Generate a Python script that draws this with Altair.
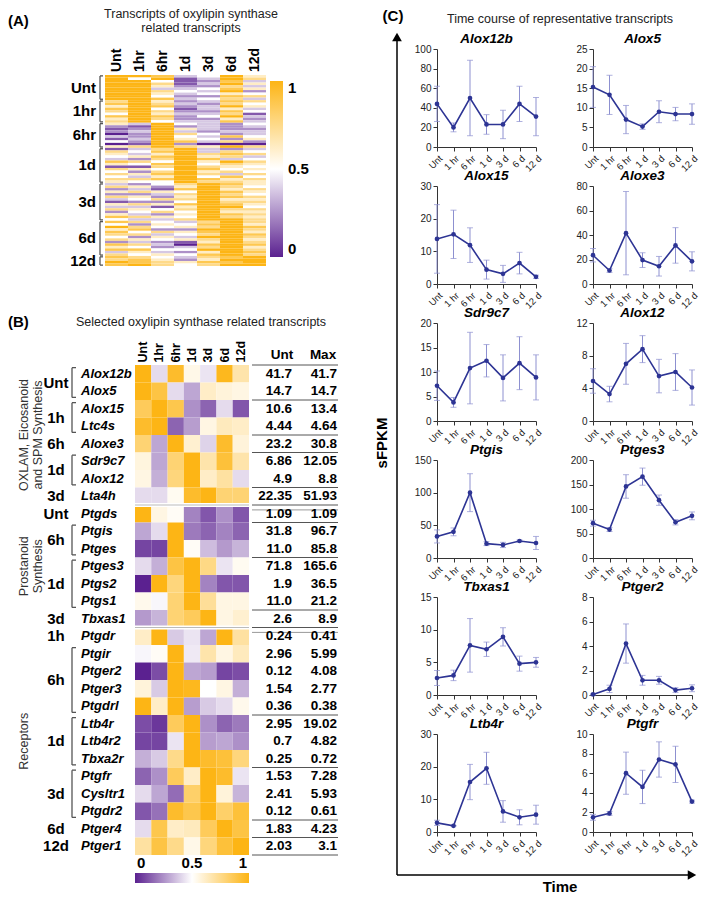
import altair as alt
import pandas as pd

FONT = "Liberation Sans"
COLOR_RANGE = ["#5b2190", "#ffffff", "#fdb515"]

# ---------------- Panel A data (digit d -> value d/8) ----------------
a_times = ["Unt", "1hr", "6hr", "1d", "3d", "6d", "12d"]
a_groups = ["Unt", "1hr", "6hr", "1d", "3d", "6d", "12d"]
a_unt = ["8873485", "8481386", "8841273", "8861385", "8852263",
         "8833475", "8864382", "8853454", "8842276", "8873463"]
a_1hr = ["6852376", "7863264", "5872385", "7841353", "6862274",
         "4853361", "7872483", "5862252", "6843373"]
a_6hr = ["5384324", "2182323", "1285322", "2383233", "0286423",
         "3284374", "1385425", "4287362", "0182000", "5686586"]
a_1d = ["1368323", "6478364", "5358676", "4578563", "3268734",
        "7648586", "5478465", "1168654", "6548745", "4268564",
        "6578636", "4358474", "6678756", "5448665"]
a_3d = ["3246875", "6525864", "2317856", "5654875", "2236864",
        "6525876", "3466855", "1224866", "5657875", "3315884",
        "6546866", "2464855", "5325876", "7654865", "4336886"]
a_6d = ["7643686", "4254785", "8645687", "5722886", "7465785",
        "6634687", "4253886", "6545685", "2321586", "7630787",
        "5423685", "7744886", "3532587", "6454786"]
a_12d = ["7643678", "6752588", "8765778", "7864688"]
a_rows = [a_unt, a_1hr, a_6hr, a_1d, a_3d, a_6d, a_12d]

# ---------------- Panel B data ----------------
b_times = ["Unt", "1hr", "6hr", "1d", "3d", "6d", "12d"]
b_genes = ["Alox12b", "Alox5", "Alox15", "Ltc4s", "Aloxe3", "Sdr9c7", "Alox12", "Lta4h",
           "Ptgds", "Ptgis", "Ptges", "Ptges3", "Ptgs2", "Ptgs1", "Tbxas1",
           "Ptgdr", "Ptgir", "Ptger2", "Ptger3", "Ptgdrl", "Ltb4r", "Ltb4r2", "Tbxa2r",
           "Ptgfr", "Cysltr1", "Ptgdr2", "Ptger4", "Ptger1"]
b_vals = [
    [1.0, 0.42, 0.95, 0.55, 0.44, 0.98, 0.68],
    [1.0, 0.9, 0.42, 0.3, 0.62, 0.58, 0.56],
    [0.85, 1.0, 0.88, 0.25, 0.15, 0.42, 0.12],
    [0.95, 1.0, 0.15, 0.28, 0.56, 0.64, 0.62],
    [0.8, 0.3, 1.0, 0.6, 0.4, 0.95, 0.58],
    [0.57, 0.3, 0.8, 1.0, 0.68, 0.92, 0.68],
    [0.56, 0.32, 0.78, 1.0, 0.62, 0.7, 0.42],
    [0.42, 0.42, 0.53, 0.95, 1.0, 0.8, 0.8],
    [1.0, 0.56, 0.52, 0.22, 0.12, 0.25, 0.12],
    [0.3, 0.42, 1.0, 0.2, 0.15, 0.22, 0.15],
    [0.08, 0.08, 1.0, 0.52, 0.35, 0.27, 0.33],
    [0.42, 0.32, 0.9, 1.0, 0.76, 0.44, 0.53],
    [0.0, 1.0, 0.78, 1.0, 0.22, 0.12, 0.12],
    [0.54, 0.48, 0.8, 1.0, 0.72, 0.56, 0.56],
    [0.27, 0.33, 0.8, 0.85, 1.0, 0.56, 0.6],
    [0.62, 1.0, 0.38, 0.44, 0.3, 1.0, 0.7],
    [0.48, 0.52, 1.0, 0.45, 0.68, 0.56, 0.64],
    [0.0, 0.1, 1.0, 0.3, 0.28, 0.08, 0.1],
    [0.58, 0.38, 1.0, 0.98, 0.5, 0.56, 0.32],
    [1.0, 0.62, 1.0, 0.28, 0.38, 0.42, 0.54],
    [0.1, 0.05, 0.85, 1.0, 0.25, 0.15, 0.2],
    [0.08, 0.08, 0.44, 1.0, 0.28, 0.3, 0.25],
    [0.32, 0.38, 0.75, 1.0, 0.95, 0.92, 0.78],
    [0.15, 0.25, 0.85, 0.62, 1.0, 0.95, 0.44],
    [0.42, 0.3, 0.17, 0.82, 1.0, 0.58, 0.33],
    [0.12, 0.18, 0.95, 0.88, 1.0, 0.82, 0.92],
    [0.42, 0.88, 0.62, 0.64, 0.85, 1.0, 0.9],
    [0.7, 0.9, 0.75, 0.55, 0.78, 0.92, 1.0],
]
b_unt = ["41.7", "14.7", "10.6", "4.44", "23.2", "6.86", "4.9", "22.35",
         "1.09", "31.8", "11.0", "71.8", "1.9", "11.0", "2.6",
         "0.24", "2.96", "0.12", "1.54", "0.36", "2.95", "0.7", "0.25",
         "1.53", "2.41", "0.12", "1.83", "2.03"]
b_max = ["41.7", "14.7", "13.4", "4.64", "30.8", "12.05", "8.8", "51.93",
         "1.09", "96.7", "85.8", "165.6", "36.5", "21.2", "8.9",
         "0.41", "5.99", "4.08", "2.77", "0.38", "19.02", "4.82", "0.72",
         "7.28", "5.93", "0.61", "4.23", "3.1"]
b_group_names = ["Unt", "1h", "6h", "1d", "3d", "Unt", "6h", "1d", "3d",
                 "1h", "6h", "1d", "3d", "6d", "12d"]
b_group_sizes = [2, 2, 1, 2, 1, 1, 2, 3, 1, 1, 4, 3, 3, 1, 1]
b_sections = ["OXLAM, Eicosanoid\nand SPM Synthesis", "Prostanoid\nSynthesis", "Receptors"]
b_section_sizes = [8, 7, 13]
b_lines = [0, 2, 4, 5, 7, 8, 9, 11, 14, 15, 20, 23, 26, 27, 28]
cbar_labels = ["0", "0.5", "1"]

# ---------------- Panel C data ----------------
c_times = ["Unt", "1 hr", "6 hr", "1 d", "3 d", "6 d", "12 d"]
c_genes = ["Alox12b", "Alox5", "Alox15", "Aloxe3", "Sdr9c7", "Alox12",
           "Ptgis", "Ptges3", "Tbxas1", "Ptger2", "Ltb4r", "Ptgfr"]
c_mean = {
    "Alox12b": [44, 20, 50, 23, 23, 44, 31],
    "Alox5": [15.3, 13.3, 7.0, 5.2, 9.0, 8.4, 8.4],
    "Alox15": [13.8, 15.2, 11.9, 4.4, 3.1, 6.4, 2.2],
    "Aloxe3": [23.5, 11, 41.5, 19.5, 14.5, 31.5, 18.5],
    "Sdr9c7": [7.2, 3.8, 10.8, 12.3, 8.8, 11.8, 8.9],
    "Alox12": [4.9, 3.3, 7.0, 8.8, 5.5, 6.0, 4.1],
    "Ptgis": [33, 40, 100, 22, 20, 26, 23],
    "Ptges3": [71, 58, 146, 166, 118, 73, 86],
    "Tbxas1": [2.6, 3.0, 7.6, 7.0, 8.9, 4.8, 5.0],
    "Ptger2": [0.05, 0.5, 4.2, 1.2, 1.2, 0.4, 0.55],
    "Ltb4r": [2.8, 1.9, 15.3, 19.5, 6.3, 4.5, 5.3],
    "Ptgfr": [1.5, 1.9, 6.0, 4.6, 7.4, 6.9, 3.1],
}
c_err = {
    "Alox12b": [18, 4.5, 38.5, 10, 14.5, 18, 19.5],
    "Alox5": [5.2, 5.0, 3.6, 0.7, 2.8, 1.7, 2.6],
    "Alox15": [10.5, 7.4, 5.3, 2.9, 2.6, 3.3, 0.5],
    "Aloxe3": [5.5, 1.5, 34, 6, 8, 14.5, 7.8],
    "Sdr9c7": [3.0, 1.0, 7.3, 3.3, 4.7, 5.4, 4.6],
    "Alox12": [1.5, 0.95, 2.5, 1.65, 2.05, 2.25, 2.15],
    "Ptgis": [10, 6, 29, 3, 4, 1.5, 10],
    "Ptges3": [6, 4, 24, 17.5, 10.5, 5.5, 8],
    "Tbxas1": [1.15, 0.8, 4.1, 1.1, 1.4, 1.15, 0.75],
    "Ptger2": [0.05, 0.3, 1.6, 0.4, 0.32, 0.2, 0.28],
    "Ltb4r": [0.8, 0.1, 5.4, 4.9, 3.3, 2.3, 2.9],
    "Ptgfr": [0.3, 0.2, 2.15, 1.7, 1.8, 1.85, 0.15],
}
c_ymax = {"Alox12b": 100, "Alox5": 25, "Alox15": 30, "Aloxe3": 80, "Sdr9c7": 20,
          "Alox12": 12, "Ptgis": 150, "Ptges3": 200, "Tbxas1": 15, "Ptger2": 8,
          "Ltb4r": 30, "Ptgfr": 10}
c_ystep = {"Alox12b": 20, "Alox5": 5, "Alox15": 10, "Aloxe3": 20, "Sdr9c7": 5,
           "Alox12": 4, "Ptgis": 50, "Ptges3": 50, "Tbxas1": 5, "Ptger2": 2,
           "Ltb4r": 10, "Ptgfr": 2}

ONE = pd.DataFrame({"a": [0]})


def label(text, x, y, **kw):
    base = dict(font=FONT, color="black")
    base.update(kw)
    return alt.Chart(pd.DataFrame({"t": [text]})).mark_text(**base).encode(
        text="t:N", x=alt.value(x), y=alt.value(y))


def color_scale():
    return alt.Scale(domain=[0, 0.5, 1], range=COLOR_RANGE, interpolate="rgb")


# ================= Panel A =================
WA, HA = 161, 191
AT = 26  # empty band above the heatmap inside the view
recs, grp = [], []
r = 0
for g, rows in zip(a_groups, a_rows):
    s = r
    for row in rows:
        for t, ch in zip(a_times, row):
            recs.append(dict(col=t, r=r, r1=r + 1, v=int(ch) / 8))
        r += 1
    grp.append(dict(name=g, mid=(s + r) / 2, s=s + 0.35, e=r - 0.35))
NA = r
dfA = pd.DataFrame(recs)
dfAg = pd.DataFrame(grp)
ya = alt.Scale(domain=[0, NA], range=[AT, AT + HA], nice=False, zero=False)
xa = alt.Scale(paddingInner=0, paddingOuter=0)

rectA = alt.Chart(dfA).mark_rect().encode(
    x=alt.X("col:N", sort=a_times, scale=xa, axis=None),
    y=alt.Y("r:Q", scale=ya, axis=None),
    y2="r1:Q",
    color=alt.Color("v:Q", scale=color_scale(),
                    legend=alt.Legend(orient="none", legendX=165, legendY=AT + 6,
                                      direction="vertical", gradientLength=176,
                                      gradientThickness=13, title=None,
                                      values=[0, 0.5, 1], format=".1~f",
                                      labelFontSize=15, labelFontWeight="bold",
                                      labelColor="black", labelOffset=5,
                                      gradientStrokeWidth=0, labelFont=FONT)),
)
colA = alt.Chart(pd.DataFrame({"col": a_times})).mark_text(
    angle=270, align="left", baseline="middle", fontSize=14, fontWeight="bold",
    font=FONT, color="black").encode(
    x=alt.X("col:N", sort=a_times, scale=xa, axis=None), text="col:N",
    y=alt.value(AT - 3))
glabA = alt.Chart(dfAg).mark_text(align="right", baseline="middle", fontSize=15,
                                  fontWeight="bold", font=FONT, color="black").encode(
    text="name:N", y=alt.Y("mid:Q", scale=ya, axis=None), x=alt.value(-9))
brA = alt.Chart(dfAg).mark_rule(color="#555", strokeWidth=1.3).encode(
    x=alt.value(-5), y=alt.Y("s:Q", scale=ya, axis=None), y2="e:Q")
capA1 = alt.Chart(dfAg).mark_rule(color="#555", strokeWidth=1.3).encode(
    x=alt.value(-5), x2=alt.value(-2), y=alt.Y("s:Q", scale=ya, axis=None))
capA2 = alt.Chart(dfAg).mark_rule(color="#555", strokeWidth=1.3).encode(
    x=alt.value(-5), x2=alt.value(-2), y=alt.Y("e:Q", scale=ya, axis=None))

panelA = alt.layer(
    rectA, colA, brA, capA1, capA2, glabA,
    label("(A)", -97, AT - 54, align="left", baseline="middle", fontSize=15,
          fontWeight="bold"),
    label("Transcripts of oxylipin synthase\nrelated transcripts", 86, AT - 67,
          align="center", baseline="top", fontSize=12.5, lineBreak="\n", lineHeight=14,
          color="#222"),
).properties(width=WA, height=AT + HA)

# ================= Panel B =================
WB, HB = 114, 490
BX = 30  # empty band left of the heatmap inside the view
NB = len(b_genes)
yb = alt.Scale(domain=[0, NB], reverse=True, nice=False, zero=False)
recsB = []
for i, (g, vals) in enumerate(zip(b_genes, b_vals)):
    for t, v in zip(b_times, vals):
        recsB.append(dict(gene=g, col=t, r=i, r1=i + 1, v=v))
dfB = pd.DataFrame(recsB)
dfBg = pd.DataFrame(dict(gene=b_genes, mid=[i + 0.5 for i in range(NB)],
                         unt=b_unt, mx=b_max))
grpB = []
s = 0
for n, sz in zip(b_group_names, b_group_sizes):
    grpB.append(dict(name=n, mid=s + sz / 2, s=s + 0.15, e=s + sz - 0.15, size=sz))
    s += sz
dfBgrp = pd.DataFrame(grpB)
dfBbr = dfBgrp[dfBgrp["size"] > 1]
secB = []
s = 0
for n, sz in zip(b_sections, b_section_sizes):
    secB.append(dict(name=n, mid=s + sz / 2, end=s + sz))
    s += sz
dfBsec = pd.DataFrame(secB)
dfBsep = dfBsec[dfBsec["end"] < NB]
dfBlines = pd.DataFrame({"b": b_lines})
dfBdouble = pd.DataFrame({"b": [e + 0.28 for e in dfBsep["end"]]})

CB_Y = 508
rectB = alt.Chart(dfB).mark_rect().encode(
    x=alt.X("col:N", sort=b_times,
            scale=alt.Scale(paddingInner=0, paddingOuter=0, range=[BX, BX + WB]),
            axis=alt.Axis(orient="top", title=None, labelAngle=270, labelFontSize=12.5,
                          labelFontWeight="bold", ticks=False, domain=False,
                          labelPadding=3, labelColor="black", labelFont=FONT)),
    y=alt.Y("r:Q", scale=yb, axis=None),
    y2="r1:Q",
    color=alt.Color("v:Q", scale=color_scale(),
                    legend=alt.Legend(orient="none", legendX=BX, legendY=CB_Y,
                                      direction="horizontal", gradientLength=WB,
                                      gradientThickness=10, title=None,
                                      values=[0, 0.5, 1], labelOpacity=0,
                                      labelFontSize=1, gradientStrokeWidth=0)),
)
sepW = alt.Chart(dfBsep).mark_rule(color="white", strokeWidth=4).encode(
    x=alt.value(BX), x2=alt.value(BX + WB), y=alt.Y("end:Q", scale=yb, axis=None))
sepG = alt.Chart(dfBsep).mark_rule(color="#aaa", strokeWidth=0.8).encode(
    x=alt.value(BX), x2=alt.value(BX + WB), y=alt.Y("end:Q", scale=yb, axis=None))
geneB = alt.Chart(dfBg).mark_text(align="left", baseline="middle", fontSize=13,
                                  fontWeight="bold", fontStyle="italic", font=FONT,
                                  color="black").encode(
    text="gene:N", y=alt.Y("mid:Q", scale=yb, axis=None), x=alt.value(BX - 54))
untB = alt.Chart(dfBg).mark_text(align="right", baseline="middle", fontSize=13.5,
                                 fontWeight="bold", font=FONT, color="black").encode(
    text="unt:N", y=alt.Y("mid:Q", scale=yb, axis=None), x=alt.value(BX + 157))
maxB = alt.Chart(dfBg).mark_text(align="right", baseline="middle", fontSize=13.5,
                                 fontWeight="bold", font=FONT, color="black").encode(
    text="mx:N", y=alt.Y("mid:Q", scale=yb, axis=None), x=alt.value(BX + 202))
linesB = alt.Chart(dfBlines).mark_rule(color="#555", strokeWidth=1).encode(
    x=alt.value(BX + 117), x2=alt.value(BX + 203), y=alt.Y("b:Q", scale=yb, axis=None))
dblB = alt.Chart(dfBdouble).mark_rule(color="#999", strokeWidth=1).encode(
    x=alt.value(BX + 117), x2=alt.value(BX + 203), y=alt.Y("b:Q", scale=yb, axis=None))
glabB = alt.Chart(dfBgrp).mark_text(align="center", baseline="middle", fontSize=15,
                                    fontWeight="bold", font=FONT, color="black").encode(
    text="name:N", y=alt.Y("mid:Q", scale=yb, axis=None), x=alt.value(BX - 79))
brB = alt.Chart(dfBbr).mark_rule(color="#555", strokeWidth=1.3).encode(
    x=alt.value(BX - 63), y=alt.Y("s:Q", scale=yb, axis=None), y2="e:Q")
capB1 = alt.Chart(dfBbr).mark_rule(color="#555", strokeWidth=1.3).encode(
    x=alt.value(BX - 63), x2=alt.value(BX - 59), y=alt.Y("s:Q", scale=yb, axis=None))
capB2 = alt.Chart(dfBbr).mark_rule(color="#555", strokeWidth=1.3).encode(
    x=alt.value(BX - 63), x2=alt.value(BX - 59), y=alt.Y("e:Q", scale=yb, axis=None))
secLab = alt.Chart(dfBsec).mark_text(angle=270, align="center", baseline="middle",
                                     fontSize=12.5, font=FONT, color="#333",
                                     lineBreak="\n", lineHeight=14).encode(
    text="name:N", y=alt.Y("mid:Q", scale=yb, axis=None), x=alt.value(BX - 111))

panelB = alt.layer(
    rectB, sepW, sepG, linesB, dblB, geneB, untB, maxB, glabB, brB, capB1, capB2, secLab,
    label("Unt", BX + 147, -3, align="center", baseline="bottom", fontSize=13.5,
          fontWeight="bold"),
    label("Max", BX + 188, -3, align="center", baseline="bottom", fontSize=13.5,
          fontWeight="bold"),
    label(cbar_labels[0], BX + 2, CB_Y - 2, align="left", baseline="bottom", fontSize=15,
          fontWeight="bold"),
    label(cbar_labels[1], BX + WB / 2, CB_Y - 2, align="center", baseline="bottom",
          fontSize=15, fontWeight="bold"),
    label(cbar_labels[2], BX + WB - 2, CB_Y - 2, align="right", baseline="bottom",
          fontSize=15, fontWeight="bold"),
    label("(B)", BX - 127, -43, align="left", baseline="middle", fontSize=15,
          fontWeight="bold"),
    label("Selected oxylipin synthase related transcripts", BX + 66, -43, align="center",
          baseline="middle", fontSize=12.5, color="#222"),
).properties(width=BX + WB, height=HB)

left_col = alt.concat(panelA, panelB, columns=1, spacing=46, align="none").resolve_scale(
    color="independent", x="independent", y="independent")

# ================= Panel C =================
WC, HC = 99, 98
ROWSP, COLSP = 39, 57
LINE_C = "#2d3494"
ERR_C = "#8d90d0"
BOT = 141


def tc_chart(idx, gene):
    df = pd.DataFrame(dict(time=c_times, m=c_mean[gene], sd=c_err[gene]))
    df["lo"] = df["m"] - df["sd"]
    df["hi"] = df["m"] + df["sd"]
    ymax = c_ymax[gene]
    sc = alt.Scale(domain=[0, ymax], nice=False, zero=True)
    yax = alt.Axis(title=None, values=list(range(0, ymax + 1, c_ystep[gene])), grid=False,
                   labelFontSize=10, tickSize=4, labelPadding=2, domainColor="#333",
                   tickColor="#333", labelColor="#222", labelFont=FONT, format="d")
    xax = alt.Axis(title=None, labelAngle=315, labelFontSize=9.5, tickSize=4,
                   labelPadding=2, domainColor="#333", tickColor="#333",
                   labelColor="#222", labelFont=FONT)
    base = alt.Chart(df).encode(
        x=alt.X("time:N", sort=c_times, scale=alt.Scale(type="point", padding=0), axis=xax))
    err = base.mark_rule(color=ERR_C, strokeWidth=1).encode(
        y=alt.Y("lo:Q", scale=sc, axis=yax), y2="hi:Q")
    cap1 = base.mark_tick(color=ERR_C, size=6, thickness=1, orient="horizontal").encode(
        y=alt.Y("lo:Q", scale=sc, axis=yax))
    cap2 = base.mark_tick(color=ERR_C, size=6, thickness=1, orient="horizontal").encode(
        y=alt.Y("hi:Q", scale=sc, axis=yax))
    line = base.mark_line(color=LINE_C, strokeWidth=1.6).encode(
        y=alt.Y("m:Q", scale=sc, axis=yax))
    pts = base.mark_point(filled=True, size=22, opacity=1, color=LINE_C).encode(
        y=alt.Y("m:Q", scale=sc, axis=yax))
    title = label(gene, WC / 2, -3, align="center", baseline="bottom", fontSize=13.5,
                  fontWeight="bold", fontStyle="italic")
    layers = [err, cap1, cap2, line, pts, title]
    if idx % 2 == 0:
        k = idx // 2
        top = -9 if k == 0 else -ROWSP
        bottom = HC if k < 5 else BOT
        layers.append(alt.Chart(ONE).mark_rule(color="black", strokeWidth=1.5).encode(
            x=alt.value(-40), y=alt.value(top), y2=alt.value(bottom)))
        if k == 0:
            layers.append(alt.Chart(ONE).mark_point(shape="triangle-up", filled=True, size=95,
                                                    opacity=1, color="black").encode(
                x=alt.value(-40), y=alt.value(-12)))
            layers.append(label("(C)", -44, -33, align="center", baseline="middle",
                                fontSize=15, fontWeight="bold"))
            layers.append(label("Time course of representative transcripts", 123, -30,
                                align="center", baseline="middle", fontSize=12.5,
                                color="#222"))
        if k == 3:
            layers.append(label("sFPKM", -55, -17, align="center", baseline="middle",
                                fontSize=15, fontWeight="bold", angle=270))
        if k == 5:
            layers.append(alt.Chart(ONE).mark_rule(color="black", strokeWidth=1.5).encode(
                x=alt.value(-40), x2=alt.value(252), y=alt.value(BOT)))
            layers.append(alt.Chart(ONE).mark_point(shape="triangle-right", filled=True,
                                                    size=95, opacity=1, color="black").encode(
                x=alt.value(255), y=alt.value(BOT)))
            layers.append(label("Time", 123, BOT + 12, align="center", baseline="middle",
                                fontSize=15, fontWeight="bold"))
    return alt.layer(*layers).properties(width=WC, height=HC)


panelC = alt.concat(*[tc_chart(i, g) for i, g in enumerate(c_genes)], columns=2,
                    spacing={"row": ROWSP, "column": COLSP}, bounds="flush").resolve_scale(
    x="independent", y="independent")

chart = alt.concat(left_col, panelC, columns=2, spacing=36, align="none").resolve_scale(
    color="independent", x="independent", y="independent").properties(
    padding=0).configure(font=FONT).configure_view(stroke=None)

chart.save("out.html", embed_options={"renderer": "svg", "actions": False})
